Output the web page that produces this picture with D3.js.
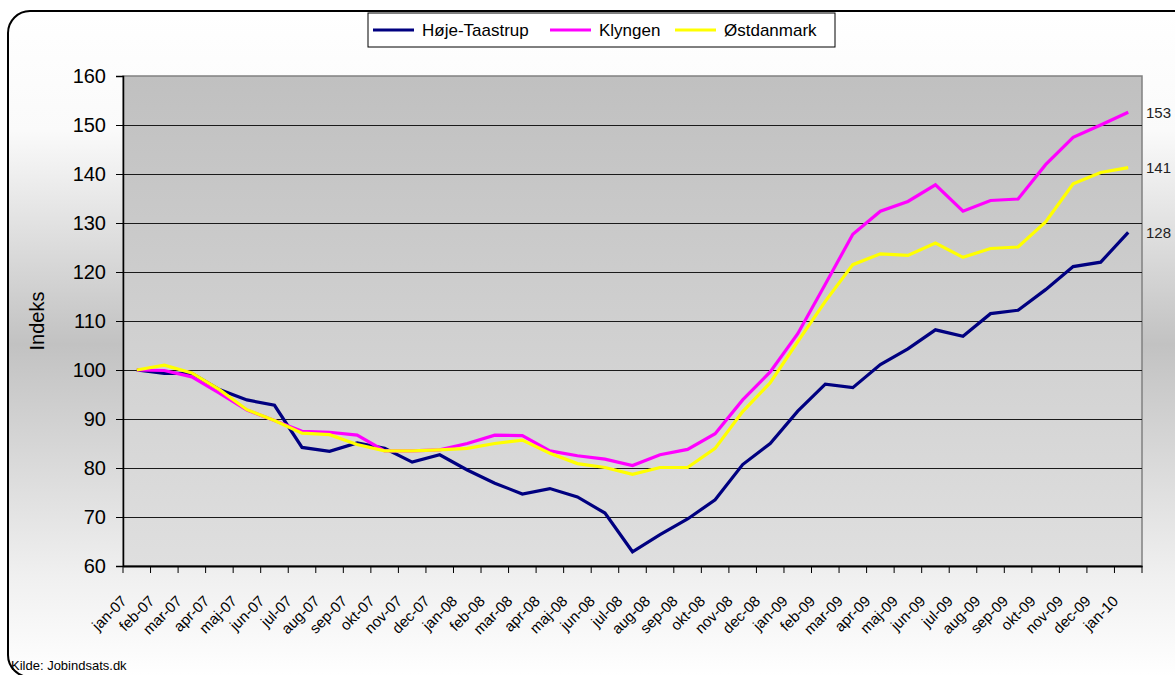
<!DOCTYPE html>
<html>
<head>
<meta charset="utf-8">
<script src="https://cdn.jsdelivr.net/npm/d3@7"></script>
<style>
  html, body { margin: 0; padding: 0; background: #fff; }
  svg { display: block; font-family: "Liberation Sans", Arial, sans-serif; }
</style>
</head>
<body>
<div id="chart"></div>
<script>
// ── Data (index, jan 2007 = 100) ─────────────────────────────
const months = [
  'jan-07','feb-07','mar-07','apr-07','maj-07','jun-07','jul-07','aug-07','sep-07','okt-07','nov-07','dec-07',
  'jan-08','feb-08','mar-08','apr-08','maj-08','jun-08','jul-08','aug-08','sep-08','okt-08','nov-08','dec-08',
  'jan-09','feb-09','mar-09','apr-09','maj-09','jun-09','jul-09','aug-09','sep-09','okt-09','nov-09','dec-09',
  'jan-10'
];

const hojeTaastrup = [
  100, 99.3, 99.3, 96, 93.9, 92.8, 84.2, 83.4, 85.1, 84, 81.2, 82.7,
  79.6, 76.9, 74.7, 75.8, 74.1, 70.8, 62.9, 66.4, 69.6, 73.5, 80.7, 85,
  91.6, 97.1, 96.4, 101.1, 104.3, 108.2, 106.9, 111.5, 112.2, 116.4, 121.1, 122,
  128.1
];

const klyngen = [
  100, 99.9, 98.6, 95.3, 91.8, 89.7, 87.5, 87.3, 86.7, 83.5, 83.5, 83.7,
  85, 86.7, 86.6, 83.5, 82.5, 81.8, 80.5, 82.7, 83.8, 87, 93.9, 99.6,
  107.4, 117.5, 127.7, 132.4, 134.4, 137.8, 132.4, 134.6, 134.9, 141.9, 147.5, 150,
  152.6
];

const ostdanmark = [
  100, 101, 99.4, 96, 91.9, 89.7, 87.1, 86.8, 84.8, 83.5, 83.5, 83.7,
  84, 85, 85.7, 83, 80.9, 80.1, 78.7, 80.1, 80.1, 84, 91.5, 97.4,
  105.8, 114, 121.5, 123.7, 123.4, 125.9, 123, 124.8, 125.1, 130.2, 138, 140.3,
  141.3
];

const seriesNames  = ['Høje-Taastrup', 'Klyngen', 'Østdanmark'];
const seriesColors = ['#000080', '#ff00ff', '#ffff00'];
const seriesValues = [hojeTaastrup, klyngen, ostdanmark];
const yTicks = [60, 70, 80, 90, 100, 110, 120, 130, 140, 150, 160];

// ── Layout ───────────────────────────────────────────────────
const W = 1175, H = 675;
const plot = { left: 123, right: 1142, top: 76, bottom: 566 };

const svg = d3.select('#chart').append('svg')
  .attr('width', W).attr('height', H);

const defs = svg.append('defs');

// chart area: white at top and bottom, grey band in the middle
const bgGrad = defs.append('linearGradient')
  .attr('id', 'bgGrad').attr('x1', 0).attr('y1', 0).attr('x2', 0).attr('y2', 1);
bgGrad.append('stop').attr('offset', '0%').attr('stop-color', '#ffffff');
bgGrad.append('stop').attr('offset', '18%').attr('stop-color', '#fafafa');
bgGrad.append('stop').attr('offset', '50%').attr('stop-color', '#c2c2c2');
bgGrad.append('stop').attr('offset', '85%').attr('stop-color', '#f0f0f0');
bgGrad.append('stop').attr('offset', '100%').attr('stop-color', '#ffffff');

// plot area: darker grey at top, lighter at bottom
const plotGrad = defs.append('linearGradient')
  .attr('id', 'plotGrad').attr('x1', 0).attr('y1', 0).attr('x2', 0).attr('y2', 1);
plotGrad.append('stop').attr('offset', '0%').attr('stop-color', '#c0c0c0');
plotGrad.append('stop').attr('offset', '100%').attr('stop-color', '#dfdfdf');

// outer chart border (rounded, partly outside the view)
svg.append('rect')
  .attr('x', 8).attr('y', 11)
  .attr('width', 1190).attr('height', 666)
  .attr('rx', 22).attr('ry', 22)
  .attr('fill', 'url(#bgGrad)')
  .attr('stroke', '#000').attr('stroke-width', 2);

// ── Scales ───────────────────────────────────────────────────
const x = d3.scaleBand().domain(months).range([plot.left, plot.right]);
const y = d3.scaleLinear().domain([60, 160]).range([plot.bottom, plot.top]);
const cx = m => x(m) + x.bandwidth() / 2;

// plot background
svg.append('rect')
  .attr('x', plot.left).attr('y', plot.top)
  .attr('width', plot.right - plot.left).attr('height', plot.bottom - plot.top)
  .attr('fill', 'url(#plotGrad)')
  .attr('stroke', '#808080').attr('stroke-width', 1.5);

// gridlines
svg.append('g')
  .selectAll('line')
  .data(yTicks.filter(t => t > 60 && t < 160))
  .join('line')
  .attr('x1', plot.left).attr('x2', plot.right)
  .attr('y1', d => Math.round(y(d)) + 0.5).attr('y2', d => Math.round(y(d)) + 0.5)
  .attr('stroke', '#1a1a1a').attr('stroke-width', 1);

// ── Axes ─────────────────────────────────────────────────────
const yAxis = svg.append('g')
  .attr('transform', `translate(${plot.left},0)`)
  .call(d3.axisLeft(y).tickValues(yTicks).tickSize(7).tickPadding(10).tickFormat(d3.format('d')));
yAxis.select('.domain').attr('stroke', '#000').attr('stroke-width', 1.5);
yAxis.selectAll('.tick line').attr('stroke', '#000');
yAxis.selectAll('.tick text')
  .attr('font-size', 20).attr('fill', '#000')
  .attr('font-family', '"Liberation Sans", Arial, sans-serif');

const xAxis = svg.append('g')
  .attr('transform', `translate(0,${plot.bottom})`)
  .call(d3.axisBottom(x).tickSize(0).tickFormat(''));
xAxis.select('.domain').attr('stroke', '#000').attr('stroke-width', 2);

// tick marks on band boundaries
svg.append('g')
  .selectAll('line')
  .data(months.concat(['__end']))
  .join('line')
  .attr('x1', d => d === '__end' ? plot.right : x(d))
  .attr('x2', d => d === '__end' ? plot.right : x(d))
  .attr('y1', plot.bottom).attr('y2', plot.bottom + 7)
  .attr('stroke', '#000').attr('stroke-width', 1);

// rotated month labels
svg.append('g')
  .selectAll('text')
  .data(months)
  .join('text')
  .attr('transform', d => `translate(${cx(d) - 9},${plot.bottom + 36}) rotate(-45)`)
  .attr('text-anchor', 'end')
  .attr('font-size', 15)
  .attr('fill', '#000')
  .text(d => d);

// y-axis title
svg.append('text')
  .attr('transform', `translate(44,${(plot.top + plot.bottom) / 2}) rotate(-90)`)
  .attr('text-anchor', 'middle')
  .attr('font-size', 20)
  .attr('fill', '#000')
  .text('Indeks');

// ── Lines ────────────────────────────────────────────────────
const line = d3.line()
  .x((d, i) => cx(months[i]))
  .y(d => y(d));

svg.append('g')
  .selectAll('path')
  .data(seriesValues)
  .join('path')
  .attr('d', d => line(d))
  .attr('fill', 'none')
  .attr('stroke', (d, i) => seriesColors[i])
  .attr('stroke-width', 3.2)
  .attr('stroke-linejoin', 'miter');

// end value labels
svg.append('g')
  .selectAll('text')
  .data(seriesValues)
  .join('text')
  .attr('x', plot.right + 4)
  .attr('y', d => y(d[d.length - 1]))
  .attr('dy', '0.35em')
  .attr('font-size', 15)
  .attr('fill', '#222')
  .text(d => Math.round(d[d.length - 1]));

// ── Legend ───────────────────────────────────────────────────
const legend = svg.append('g');
legend.append('rect')
  .attr('x', 368).attr('y', 13).attr('width', 467).attr('height', 34)
  .attr('fill', '#ffffff').attr('stroke', '#000').attr('stroke-width', 1);

const legendX = [373, 550, 675];
const items = legend.selectAll('g.item')
  .data(seriesNames)
  .join('g')
  .attr('class', 'item')
  .attr('transform', (d, i) => `translate(${legendX[i]},30)`);
items.append('line')
  .attr('x1', 0).attr('x2', 41)
  .attr('stroke', (d, i) => seriesColors[i]).attr('stroke-width', 3.2);
items.append('text')
  .attr('x', 49).attr('dy', '0.35em')
  .attr('font-size', 17).attr('fill', '#000')
  .text(d => d);

// source note
svg.append('text')
  .attr('x', 11).attr('y', 670)
  .attr('font-size', 13).attr('fill', '#000')
  .text('Kilde: Jobindsats.dk');
</script>
</body>
</html>
